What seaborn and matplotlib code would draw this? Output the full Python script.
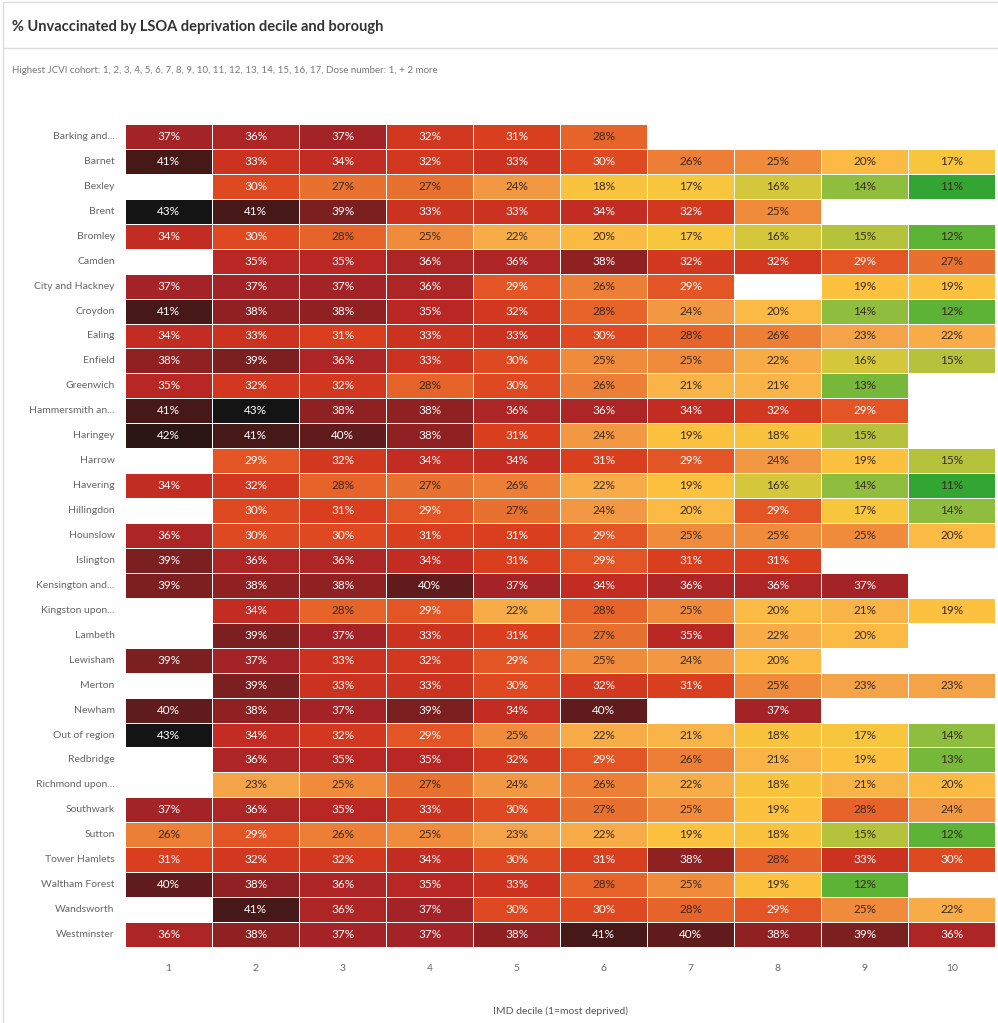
import numpy as np
import pandas as pd
import matplotlib
matplotlib.use('Agg')
import matplotlib.pyplot as plt
from matplotlib.colors import LinearSegmentedColormap
from matplotlib.lines import Line2D
import seaborn as sns

# Data (NaN = no cell drawn)
boroughs = [
    'Barking and...', 'Barnet', 'Bexley', 'Brent', 'Bromley', 'Camden',
    'City and Hackney', 'Croydon', 'Ealing', 'Enfield', 'Greenwich',
    'Hammersmith an...', 'Haringey', 'Harrow', 'Havering', 'Hillingdon',
    'Hounslow', 'Islington', 'Kensington and...', 'Kingston upon...',
    'Lambeth', 'Lewisham', 'Merton', 'Newham', 'Out of region', 'Redbridge',
    'Richmond upon...', 'Southwark', 'Sutton', 'Tower Hamlets',
    'Waltham Forest', 'Wandsworth', 'Westminster',
]
deciles = ['1', '2', '3', '4', '5', '6', '7', '8', '9', '10']
nan = np.nan
unvaccinated = [
    [37, 36, 37, 32, 31, 28, nan, nan, nan, nan],
    [41, 33, 34, 32, 33, 30, 26, 25, 20, 17],
    [nan, 30, 27, 27, 24, 18, 17, 16, 14, 11],
    [43, 41, 39, 33, 33, 34, 32, 25, nan, nan],
    [34, 30, 28, 25, 22, 20, 17, 16, 15, 12],
    [nan, 35, 35, 36, 36, 38, 32, 32, 29, 27],
    [37, 37, 37, 36, 29, 26, 29, nan, 19, 19],
    [41, 38, 38, 35, 32, 28, 24, 20, 14, 12],
    [34, 33, 31, 33, 33, 30, 28, 26, 23, 22],
    [38, 39, 36, 33, 30, 25, 25, 22, 16, 15],
    [35, 32, 32, 28, 30, 26, 21, 21, 13, nan],
    [41, 43, 38, 38, 36, 36, 34, 32, 29, nan],
    [42, 41, 40, 38, 31, 24, 19, 18, 15, nan],
    [nan, 29, 32, 34, 34, 31, 29, 24, 19, 15],
    [34, 32, 28, 27, 26, 22, 19, 16, 14, 11],
    [nan, 30, 31, 29, 27, 24, 20, 29, 17, 14],
    [36, 30, 30, 31, 31, 29, 25, 25, 25, 20],
    [39, 36, 36, 34, 31, 29, 31, 31, nan, nan],
    [39, 38, 38, 40, 37, 34, 36, 36, 37, nan],
    [nan, 34, 28, 29, 22, 28, 25, 20, 21, 19],
    [nan, 39, 37, 33, 31, 27, 35, 22, 20, nan],
    [39, 37, 33, 32, 29, 25, 24, 20, nan, nan],
    [nan, 39, 33, 33, 30, 32, 31, 25, 23, 23],
    [40, 38, 37, 39, 34, 40, nan, 37, nan, nan],
    [43, 34, 32, 29, 25, 22, 21, 18, 17, 14],
    [nan, 36, 35, 35, 32, 29, 26, 21, 19, 13],
    [nan, 23, 25, 27, 24, 26, 22, 18, 21, 20],
    [37, 36, 35, 33, 30, 27, 25, 19, 28, 24],
    [26, 29, 26, 25, 23, 22, 19, 18, 15, 12],
    [31, 32, 32, 34, 30, 31, 38, 28, 33, 30],
    [40, 38, 36, 35, 33, 28, 25, 19, 12, nan],
    [nan, 41, 36, 37, 30, 30, 28, 29, 25, 22],
    [36, 38, 37, 37, 38, 41, 40, 38, 39, 36],
]

df = pd.DataFrame(unvaccinated, index=boroughs, columns=deciles)

# colour ramp green -> yellow -> orange -> red -> black
vmin, vmax = 11, 43
stops = [
    (11, '#33a532'), (12, '#5cb335'), (14, '#8fbd3e'), (15, '#b4c23c'),
    (16, '#d4c73b'), (17, '#f8c63c'), (19, '#fcc13e'), (21, '#f9b447'),
    (23, '#f5a448'), (25, '#f08c3c'), (27, '#e97230'), (29, '#e35625'),
    (31, '#da3e1e'), (33, '#cc321f'), (35, '#ba2724'), (37, '#a52326'),
    (39, '#7e1f21'), (40.5, '#561b1a'), (42, '#2e1615'), (43, '#151414'),
]
cmap = LinearSegmentedColormap.from_list(
    'unvax', [((v - vmin) / (vmax - vmin), c) for v, c in stops])

sns.set_style('white')
plt.rcParams['font.family'] = ['Lato', 'DejaVu Sans']

fig = plt.figure(figsize=(9.98, 10.23), dpi=100)
ax = fig.add_axes([0.1253, 0.0743, 0.872, 0.8045])

labels = df.map(lambda v: '' if np.isnan(v) else f'{int(v)}%')
sns.heatmap(df, ax=ax, cmap=cmap, vmin=vmin, vmax=vmax, cbar=False,
            annot=labels, fmt='', linewidths=0.4, linecolor='white',
            annot_kws={'fontsize': 8.5})

# white text on dark cells, dark text on light ones
for t, v in zip(ax.texts, df.values[~np.isnan(df.values)]):
    t.set_color('white' if v >= 29 else '#3a2a20')

ax.tick_params(axis='both', length=4, width=0.6, color='#bbbbbb',
               labelsize=7.5, labelcolor='#666666')
ax.tick_params(axis='x', pad=8)
ax.set_yticklabels(ax.get_yticklabels(), rotation=0)
ax.set_xticklabels(ax.get_xticklabels(), rotation=0)
ax.set_ylabel('')
ax.set_xlabel('IMD decile (1=most deprived)', fontsize=7.5, color='#555555',
              labelpad=24)

# card frame, title and filter text
fig.add_artist(Line2D([0.003, 0.003], [0, 0.998], color='#dddddd', lw=1))
fig.add_artist(Line2D([0.003, 1], [0.998, 0.998], color='#dddddd', lw=1))
fig.add_artist(Line2D([0.003, 1], [0.953, 0.953], color='#dddddd', lw=1))
fig.text(0.012, 0.974, '% Unvaccinated by LSOA deprivation decile and borough',
         fontsize=10.5, fontweight='bold', color='#333333', va='center')
fig.text(0.012, 0.931,
         'Highest JCVI cohort: 1, 2, 3, 4, 5, 6, 7, 8, 9, 10, 11, 12, 13, 14, '
         '15, 16, 17, Dose number: 1, + 2 more',
         fontsize=7, color='#777777', va='center')

fig.savefig('out.png', dpi=100)
